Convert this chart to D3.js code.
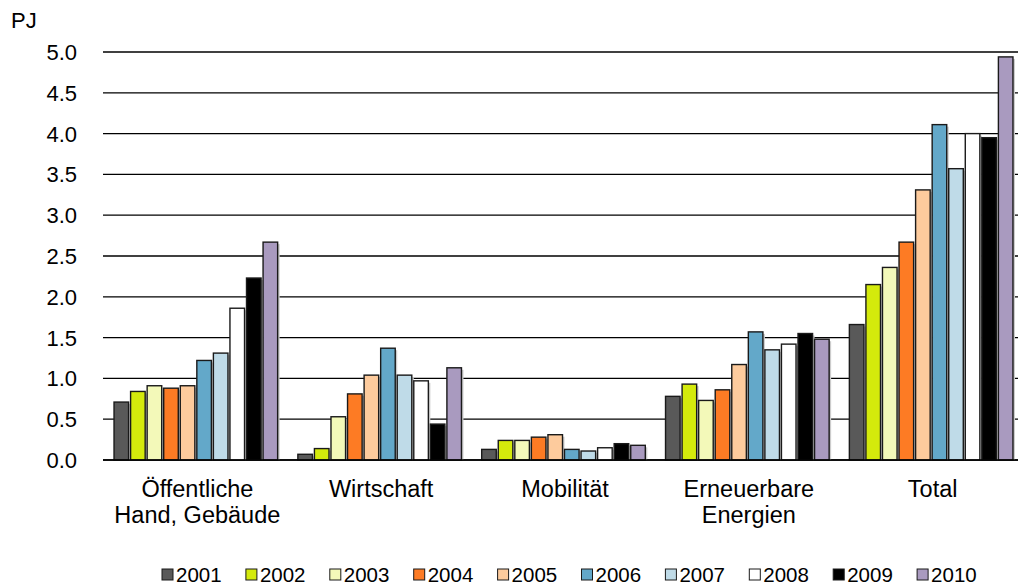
<!DOCTYPE html>
<html>
<head>
<meta charset="utf-8">
<script src="https://cdn.jsdelivr.net/npm/d3@7"></script>
<style>
 body { margin:0; background:#fff; }
 text { font-family:"Liberation Sans", Arial, sans-serif; fill:#000; }
</style>
</head>
<body>
<script>
 var categories = [["Öffentliche", "Hand, Gebäude"], ["Wirtschaft"], ["Mobilität"], ["Erneuerbare", "Energien"], ["Total"]];
 var years = ["2001","2002","2003","2004","2005","2006","2007","2008","2009","2010"];
 var colors = ["#595959","#d4ea0c","#f3f9b9","#fd7b24","#fdcb9d","#63a8c9","#bfdbe8","#ffffff","#000000","#a99abf"];
 // one array per category, values per year
 var oeffentlich = [0.71, 0.84, 0.91, 0.88, 0.91, 1.22, 1.31, 1.86, 2.23, 2.67];
 var wirtschaft  = [0.07, 0.14, 0.53, 0.81, 1.04, 1.37, 1.04, 0.97, 0.44, 1.13];
 var mobilitaet  = [0.13, 0.24, 0.24, 0.28, 0.31, 0.13, 0.11, 0.15, 0.20, 0.18];
 var erneuerbar  = [0.78, 0.93, 0.73, 0.86, 1.17, 1.57, 1.35, 1.42, 1.55, 1.48];
 var total       = [1.66, 2.15, 2.36, 2.67, 3.31, 4.11, 3.57, 4.00, 3.95, 4.94];
 var yTicks = [0, 0.5, 1.0, 1.5, 2.0, 2.5, 3.0, 3.5, 4.0, 4.5, 5.0];

 var series = [oeffentlich, wirtschaft, mobilitaet, erneuerbar, total];

 var svg = d3.select("body").append("svg")
     .attr("width", 1018).attr("height", 585);

 var plotL = 103, plotR = 1024, gridR = 1018, plotT = 52, plotB = 460;

 var y = d3.scaleLinear().domain([0, 5]).range([plotB, plotT]);
 var x0 = d3.scaleBand().domain(d3.range(categories.length))
     .range([plotL, plotR]).paddingInner(0.11).paddingOuter(0.06);
 var x1 = d3.scaleBand().domain(years).range([0, x0.bandwidth()])
     .paddingInner(0.12).paddingOuter(0);

 // gridlines
 svg.selectAll("line.grid").data(yTicks).enter().append("line")
     .attr("class", "grid")
     .attr("x1", plotL).attr("x2", gridR)
     .attr("y1", function(d){ return y(d); }).attr("y2", function(d){ return y(d); })
     .attr("stroke", "#000").attr("stroke-width", 1.3);

 // tick labels
 svg.selectAll("text.ytick").data(yTicks).enter().append("text")
     .attr("class", "ytick")
     .attr("x", 77).attr("y", function(d){ return y(d) + 8; })
     .attr("text-anchor", "end").style("font-size", "22px")
     .text(function(d){ return d3.format(".1f")(d); });

 svg.append("text").attr("x", 11).attr("y", 28).style("font-size", "22px").text("PJ");

 // bars
 var groups = svg.selectAll("g.group").data(series).enter().append("g")
     .attr("class", "group")
     .attr("transform", function(d, i){ return "translate(" + x0(i) + ",0)"; });

 // soft shadow
 groups.selectAll("rect.shadow").data(function(d){ return d; }).enter().append("rect")
     .attr("class", "shadow")
     .attr("x", function(d, i){ return x1(years[i]) + 2; })
     .attr("y", function(d){ return y(d) + 2; })
     .attr("width", x1.bandwidth())
     .attr("height", function(d){ return plotB - y(d) - 2; })
     .attr("fill", "#cccccc");

 groups.selectAll("rect.bar").data(function(d){ return d; }).enter().append("rect")
     .attr("class", "bar")
     .attr("x", function(d, i){ return x1(years[i]); })
     .attr("y", function(d){ return y(d); })
     .attr("width", x1.bandwidth())
     .attr("height", function(d){ return plotB - y(d); })
     .attr("fill", function(d, i){ return colors[i]; })
     .attr("stroke", "#1a1a1a").attr("stroke-width", 1.4);

 // baseline on top
 svg.append("line").attr("x1", plotL).attr("x2", gridR)
     .attr("y1", y(0)).attr("y2", y(0)).attr("stroke", "#000").attr("stroke-width", 1.3);

 // category labels
 var lab = svg.selectAll("text.cat").data(categories).enter().append("text")
     .attr("class", "cat")
     .attr("text-anchor", "middle").style("font-size", "23.5px")
     .attr("transform", function(d, i){ return "translate(" + (x0(i) + x0.bandwidth() / 2 + 1.5) + ",497)"; });
 lab.selectAll("tspan").data(function(d){ return d; }).enter().append("tspan")
     .attr("x", 0).attr("dy", function(d, i){ return i ? 26 : 0; })
     .text(function(d){ return d; });

 // legend
 var leg = svg.selectAll("g.leg").data(years).enter().append("g")
     .attr("class", "leg")
     .attr("transform", function(d, i){ return "translate(" + (162 + i * 83.9) + ",0)"; });
 leg.append("rect").attr("x", 0).attr("y", 569).attr("width", 11).attr("height", 11)
     .attr("fill", function(d, i){ return colors[i]; })
     .attr("stroke", "#1a1a1a").attr("stroke-width", 1);
 leg.append("text").attr("x", 14).attr("y", 582).style("font-size", "20.5px")
     .text(function(d){ return d; });
</script>
</body>
</html>
